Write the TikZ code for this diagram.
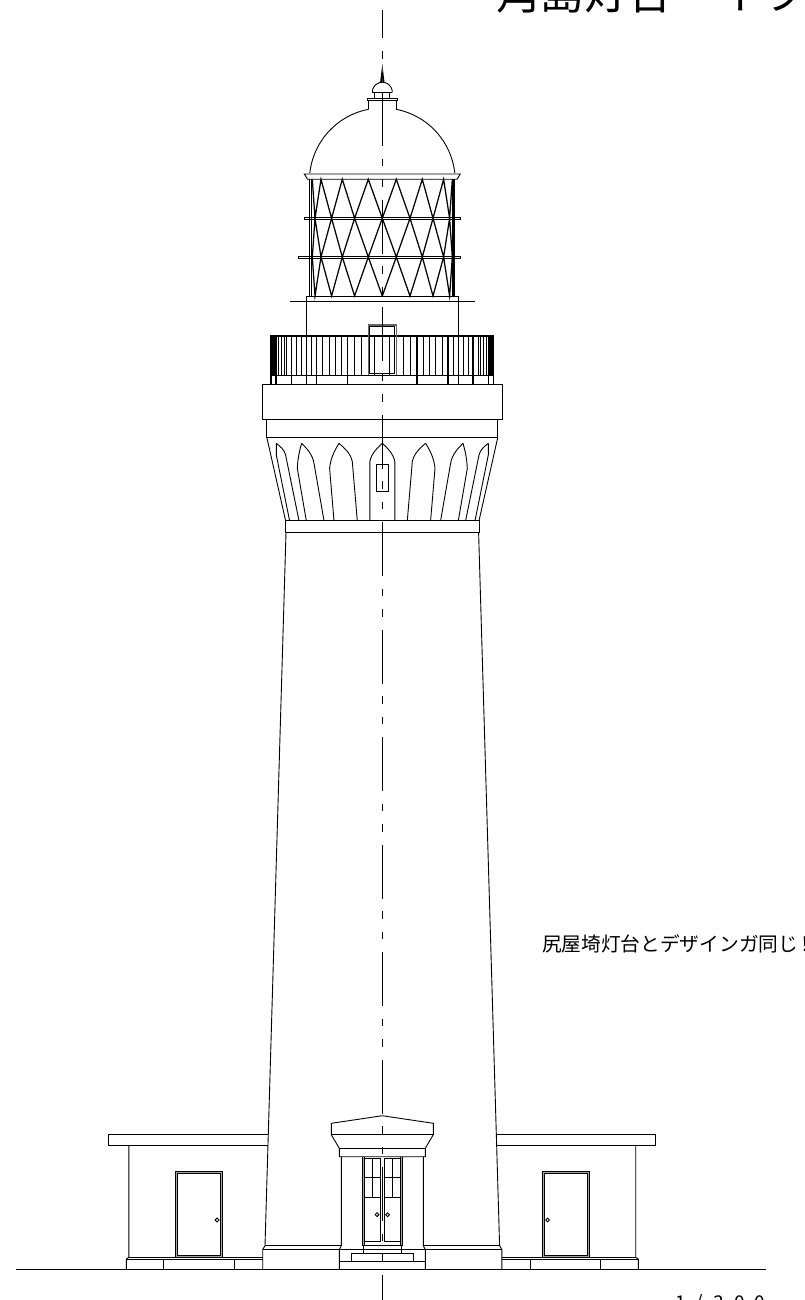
\documentclass[tikz,border=0pt]{standalone}
\usepackage{fontspec}
\newfontfamily\jpfont{Noto Sans CJK JP}
\newfontfamily\scalefont[WordSpace=2.4]{Noto Sans CJK JP}
\tikzset{
  ln/.style={line width=0.9pt,line join=miter},
  lat/.style={line width=1.25pt,line join=miter},
  heavy/.style={line width=1.4pt},
  frameband/.style={draw=black,line width=0.9pt,fill=black!35},
  frameinner/.style={draw=black,line width=0.9pt,fill=white},
  centre/.style={line width=0.9pt,dash pattern=on 54pt off 12.7pt on 7.7pt off 12.7pt on 7.7pt off 12.7pt,dash phase=25.5pt},
  txt/.style={inner sep=0pt,outer sep=0pt}
}
% half arch of a corbel flute
\newcommand{\archhalf}[4]{% sx sy bx ax
  \draw[ln] (#3,520.7) -- (#1,#2)
    .. controls ({#1+0.12*(#4-#1)},{#2-0.45*(#2-443.3)}) and ({#1+0.6*(#4-#1)},{#2-0.75*(#2-443.3)}) .. (#4,443.3);
}
\newcommand{\zigzag}[2]{% y of top-set, y of bottom-set
  \draw[lat] (0,#2) -- (14,#1) -- (27.7,#2) -- (40,#1) -- (50.7,#2) -- (61.3,#1) -- (67.3,#2) -- (70,#1);
}
\begin{document}
\begin{tikzpicture}[x=1pt,y=-1pt]
\useasboundingbox (0,0) rectangle (805,1300);
\clip (0,0) rectangle (805,1300);
\begin{scope}[shift={(382.3,0)}]
\foreach \s in {1,-1}{
\begin{scope}[xscale=\s]
  % spire and cupola
  \fill (0,64) -- (2.2,82.3) -- (0,82.3) -- cycle;
  \draw[ln] plot[domain=0:90,samples=16] ({10*cos(\x)},{92.3-10*sin(\x)});
  \draw[ln] (0,92.3) -- (10,92.3);
  \draw[ln] (7.5,92.3) -- (7.5,98.3);
  \draw[ln] (0,98.3) -- (14.7,98.3) -- (14.7,100) -- (0,100);
  \draw[ln] (13.9,100) -- (13.9,109.3);
  % dome
  \draw[ln] plot[domain=100.9:173.8,samples=40] ({72.9*cos(\x)},{180.9-72.9*sin(\x)});
  % flange
  \draw[ln] (0,174) -- (78,174) -- (74.7,179.3) -- (0,179.3);
  % lantern glazing
  \draw[ln] (72.5,179.3) -- (72.5,296);
  \draw[heavy] (70.7,179.3) -- (70.7,296);
  \zigzag{179.3}{218.3}
  \zigzag{257}{218.3}
  \zigzag{257}{296}
  % platform
  \draw[ln] (0,296) -- (75.7,296);
  \draw[heavy] (0,301.7) -- (92.2,301.7);
  \draw[ln] (75.7,296) -- (75.7,384.3);
  % balusters
  \foreach \b in {7.5,21,28,40.7,47,53.3,59.7,70.7,80.7,85.7,95.7,98.3,101,104}{
    \draw[ln] (\b,336) -- (\b,375);
  }
  \foreach \b in {34.7,65.7,90.7,106.3,111.3}{
    \draw[heavy] (\b,336) -- (\b,384.3);
  }
  \fill (106.3,336) rectangle (111.8,375);
  \draw[line width=1.1pt] (0,336) -- (112,336);
  \draw[ln] (0,375) -- (112,375);
  % door in the lantern room
  \draw[line width=1.2pt,black!60] (0,325) -- (14,325) -- (14,375);
  \draw[ln] (0,326.9) -- (12.6,326.9) -- (12.6,373.3) -- (0,373.3);
  % gallery deck and band
  \draw[ln] (0,384.3) -- (120,384.3) -- (120,419.3) -- (0,419.3);
  \draw[ln] (115.4,419.3) -- (115.4,437.7) -- (0,437.7);
  % corbel
  \draw[ln] (115.4,437.7) -- (96.7,520.7);
  \archhalf{12.5}{461.7}{12.5}{0}
  \archhalf{30}{461.7}{25}{43.3}
  \archhalf{52.7}{468.3}{48.3}{43.3}
  \archhalf{68.3}{463.3}{58.3}{80.7}
  \archhalf{85}{468.3}{76}{80.7}
  \archhalf{96.7}{455}{83.3}{106}
  \archhalf{106}{455}{92.7}{106}
  % ring
  \draw[ln] (0,520.7) -- (97.3,520.7) -- (97.3,532.3) -- (0,532.3);
  % shaft
  \draw[ln] (96.3,532.3) -- (117.3,1245.7) -- (119.6,1249.5) -- (119.6,1269.3);
  \draw[ln] (41,1245.7) -- (117.3,1245.7);
  \draw[ln] (43,1249.5) -- (119.6,1249.5);
  % side building
  \draw[ln] (114,1134.7) -- (273.4,1134.7) -- (273.4,1145.3) -- (114.3,1145.3);
  \draw[ln] (253.4,1145.3) -- (253.4,1257.3) -- (256,1259) -- (256,1269.3);
  \draw[ln] (119.6,1257.3) -- (253.4,1257.3);
  \draw[ln] (119.6,1259) -- (256,1259);
  \draw[ln] (148,1259) -- (148,1269.3);
  \draw[ln] (218.4,1259) -- (218.4,1269.3);
  \draw[frameband] (159.8,1257.3) rectangle (207,1171.3);
  \draw[frameinner] (161.8,1255.3) rectangle (205,1173.3);
  \draw[ln] (165.3,1220) circle[radius=1.9];
  % porch
  \draw[ln] (0,1115.7) -- (51,1123.3) -- (51,1134.7) -- (43,1148.3) -- (43,1156.7) -- (0,1156.7);
  \draw[ln] (0,1134.7) -- (51,1134.7);
  \draw[ln] (0,1148.3) -- (43,1148.3);
  \draw[ln] (41,1156.7) -- (41,1245.7) -- (43,1249.5) -- (43,1269.3);
  \draw[ln] (0,1249.5) -- (43,1249.5);
  \draw[ln] (0,1261.3) -- (43,1261.3);
  \draw[ln] (31,1261.3) -- (31,1253.3) -- (0,1253.3);
  \fill[black!35] (18.3,1156.7) rectangle (20,1245.7);
  \draw[ln] (18.3,1156.7) -- (18.3,1245.7);
  \draw[ln] (20,1156.7) -- (20,1245.7);
  \draw[ln] (19,1245.7) -- (19,1253.3);
  \draw[ln] (0,1245.7) -- (20,1245.7);
  \draw[ln] (2,1158.7) rectangle (18.3,1241.7);
  \draw[ln] (2,1177.7) -- (18.3,1177.7);
  \draw[ln] (2,1197.3) -- (18.3,1197.3);
  \draw[ln] (10,1158.7) -- (10,1197.3);
  \draw[ln] (5.3,1214.7) circle[radius=1.9];
\end{scope}
}
  % bands of the lantern (not symmetric)
  \draw[ln] (-78,217.3) rectangle (78,219.3);
  \draw[ln] (-84,256) rectangle (78,258);
  % window of the corbel
  \draw[ln] (-6,464.3) rectangle (6,491.7);
\end{scope}
% ground
\draw[line width=1.1pt] (16,1269.3) -- (766,1269.3);
% centre line
\coordinate (ctop) at (382.3,10);
\coordinate (cbot) at (382.3,1300);
\draw[centre] (ctop) -- (cbot);
% texts
\node[txt,anchor=base west] (title) at (496,10) {\fontsize{44}{44}\selectfont\jpfont 角島灯台　イラスト};
\node[txt,anchor=base west] (note) at (542,951.5) {\fontsize{19.7}{20}\selectfont\jpfont 尻屋埼灯台とデザインガ同じ\kern-3pt ！};
\node[txt,anchor=base west] (scale) at (675,1309) {\fontsize{19}{20}\selectfont\scalefont 1 / 3 0 0};
\end{tikzpicture}
\end{document}
